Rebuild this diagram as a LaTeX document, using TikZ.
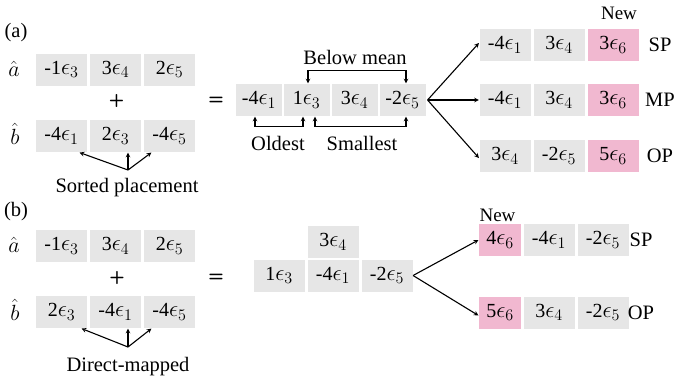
\RequirePackage{fix-cm}
\documentclass[tikz,border=0pt]{standalone}
\usepackage{fontspec}
\setmainfont{Liberation Serif}
\usepackage{amsmath}
\usepackage{tikz}

\definecolor{cellgray}{RGB}{230,230,230}
\definecolor{newpink}{RGB}{241,184,208}
\newcommand{\ep}[1]{{\fontsize{23}{26}\selectfont$\epsilon_{#1}$}}
\tikzset{
  cell/.style={fill=cellgray, minimum width=51pt, minimum height=32pt, inner sep=0pt, font=\fontsize{20}{23}\selectfont},
  newcell/.style={cell, fill=newpink},
  lbl/.style={font=\fontsize{20.5}{24}\selectfont, inner sep=1pt},
  vec/.style={font=\fontsize{22}{24}\selectfont, inner sep=1pt},
  small/.style={font=\fontsize{19}{22}\selectfont, inner sep=1pt},
  op/.style={font=\sffamily\bfseries\fontsize{18}{20}\selectfont, inner sep=1pt},
}

\begin{document}
\begin{tikzpicture}[x=1pt,y=-1pt,>=stealth,line width=1.1pt]
\useasboundingbox (0,0) rectangle (674,381);

% (a) sorted placement
\node[lbl] (tagA) at (16,33) {(a)};
\node[vec] (ahatA) at (14,69) {$\hat{a}$};
\node[vec] (bhatA) at (15,134) {$\hat{b}$};
\node[cell] (aA1) at (61.5,69.5) {-1\ep{3}};
\node[cell] (aA2) at (115.5,69.5) {3\ep{4}};
\node[cell] (aA3) at (169.5,69.5) {2\ep{5}};
\node[op] (plusA) at (116.5,100.5) {+};
\node[op] (eqA) at (216,101) {=};
\node[cell] (bA1) at (61.5,136) {-4\ep{1}};
\node[cell] (bA2) at (115.5,136) {2\ep{3}};
\node[cell] (bA3) at (169.5,136) {-4\ep{5}};
\node[lbl] (sorted) at (127,188) {Sorted placement};
\coordinate (srcA) at (128,170);
\draw[->] (srcA) -- ([xshift=-8pt]bA1.south east);
\draw[->] (srcA) -- ([xshift=12.5pt]bA2.south);
\draw[->] (srcA) -- ([xshift=8pt]bA3.south west);

\node[cell, minimum width=46pt] (mA1) at (259,100) {-4\ep{1}};
\node[cell, minimum width=46pt] (mA2) at (306.5,100) {1\ep{3}};
\node[cell, minimum width=46pt] (mA3) at (354.5,100) {3\ep{4}};
\node[cell, minimum width=46pt] (mA4) at (402.5,100) {-2\ep{5}};
\node[lbl] (below) at (355,57) {Below mean};
\node[lbl] (oldest) at (278,143) {Oldest};
\node[lbl] (smallest) at (362,143) {Smallest};
\draw[<->] ([xshift=1.5pt]mA2.north) -- ++(0,-13) -| ([xshift=3.5pt]mA4.north);
\draw[<->] ([xshift=-4pt]mA1.south) -- ++(0,10) -| ([xshift=-3.5pt]mA2.south);
\draw[<->] ([xshift=8.5pt]mA2.south) -- ++(0,10) -| ([xshift=3.5pt]mA4.south);

\node[cell] (sA1) at (505,45) {-4\ep{1}};
\node[cell] (sA2) at (559,45) {3\ep{4}};
\node[newcell] (sA3) at (613,45) {3\ep{6}};
\node[cell] (pA1) at (505,100) {-4\ep{1}};
\node[cell] (pA2) at (559,100) {3\ep{4}};
\node[newcell] (pA3) at (613,100) {3\ep{6}};
\node[cell] (oA1) at (505,156) {3\ep{4}};
\node[cell] (oA2) at (559,156) {-2\ep{5}};
\node[newcell] (oA3) at (613,156) {5\ep{6}};
\node[small] (newA) at (619,13) {New};
\node[lbl] (spA) at (660,45) {SP};
\node[lbl] (mpA) at (660,100) {MP};
\node[lbl] (opA) at (660,156) {OP};
\draw[->] ([xshift=1.5pt]mA4.east) -- ([yshift=2pt]sA1.west);
\draw[->] ([xshift=1.5pt]mA4.east) -- (pA1.west);
\draw[->] ([xshift=1.5pt]mA4.east) -- ([yshift=-2pt]oA1.west);

% (b) direct-mapped
\node[lbl] (tagB) at (16,212) {(b)};
\node[vec] (ahatB) at (14,245) {$\hat{a}$};
\node[vec] (bhatB) at (15,310) {$\hat{b}$};
\node[cell] (aB1) at (61.5,246) {-1\ep{3}};
\node[cell] (aB2) at (115.5,246) {3\ep{4}};
\node[cell] (aB3) at (169.5,246) {2\ep{5}};
\node[op] (plusB) at (117,278) {+};
\node[op] (eqB) at (216,278) {=};
\node[cell] (bB1) at (61.5,312) {2\ep{3}};
\node[cell] (bB2) at (115.5,312) {-4\ep{1}};
\node[cell] (bB3) at (169.5,312) {-4\ep{5}};
\node[lbl] (direct) at (128,367) {Direct-mapped};
\coordinate (srcB) at (128,347);
\draw[->] (srcB) -- ([xshift=-6pt]bB1.south east);
\draw[->] (srcB) -- ([xshift=12.5pt]bB2.south);
\draw[->] (srcB) -- ([xshift=8pt]bB3.south west);

\node[cell] (mB0) at (333,242) {3\ep{4}};
\node[cell] (mB1) at (279,275.5) {1\ep{3}};
\node[cell] (mB2) at (333,275.5) {-4\ep{1}};
\node[cell] (mB3) at (387,275.5) {-2\ep{5}};

\node[newcell, minimum width=42pt] (sB1) at (500,240) {4\ep{6}};
\node[cell] (sB2) at (549,240) {-4\ep{1}};
\node[cell] (sB3) at (603,240) {-2\ep{5}};
\node[newcell, minimum width=42pt] (oB1) at (500,312.5) {5\ep{6}};
\node[cell] (oB2) at (549,312.5) {3\ep{4}};
\node[cell] (oB3) at (603,312.5) {-2\ep{5}};
\node[small, anchor=south west] (newB) at (478,223) {New};
\node[lbl] (spB) at (641,240) {SP};
\node[lbl] (opB) at (641,312.5) {OP};
\draw[->] (mB3.east) -- (sB1.west);
\draw[->] (mB3.east) -- ([yshift=-3pt]oB1.west);
\end{tikzpicture}
\end{document}
